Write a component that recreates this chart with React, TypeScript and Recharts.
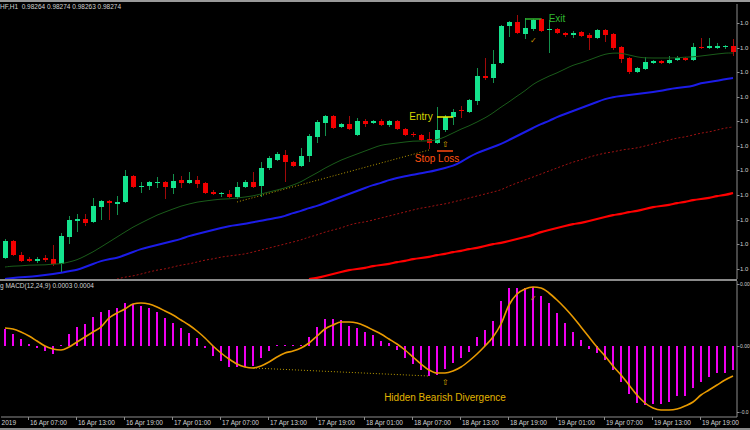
import React from 'react'
import { ComposedChart, Bar, Line, XAxis, YAxis, ReferenceLine, ReferenceDot } from 'recharts'

// hourly bars, 16 Apr 04:00 .. 19 Apr 23:00
const days = ['16 Apr', '17 Apr', '18 Apr', '19 Apr']
const times = days
  .flatMap((d) => Array.from({ length: 24 }, (_, h) => `${d} ${String(h).padStart(2, '0')}:00`))
  .slice(4)

const open = [1.0021,1.0038,1.0024,1.0020,1.0018,1.0021,1.0020,1.0015,1.0042,1.0058,1.0060,1.0057,1.0072,1.0078,1.0075,1.0077,1.0103,1.0092,1.0093,1.0096,1.0097,1.0091,1.0099,1.0096,1.0099,1.0096,1.0087,1.0085,1.0085,1.0082,1.0092,1.0097,1.0093,1.0111,1.0119,1.0124,1.0117,1.0113,1.0123,1.0142,1.0156,1.0163,1.0152,1.0155,1.0144,1.0158,1.0156,1.0158,1.0154,1.0158,1.0150,1.0145,1.0144,1.0140,1.0136,1.0149,1.0162,1.0169,1.0167,1.0178,1.0203,1.0201,1.0216,1.0253,1.0257,1.0245,1.0250,1.0260,1.0249,1.0250,1.0246,1.0244,1.0247,1.0244,1.0241,1.0249,1.0245,1.0232,1.0221,1.0207,1.0210,1.0216,1.0218,1.0216,1.0219,1.0221,1.0219,1.0232,1.0231,1.0231,1.0232,1.0233]
const high = [1.0040,1.0039,1.0027,1.0022,1.0022,1.0024,1.0034,1.0046,1.0063,1.0065,1.0065,1.0081,1.0079,1.0079,1.0083,1.0109,1.0104,1.0097,1.0098,1.0102,1.0098,1.0105,1.0103,1.0107,1.0103,1.0097,1.0089,1.0087,1.0089,1.0097,1.0099,1.0107,1.0117,1.0123,1.0127,1.0129,1.0118,1.0131,1.0145,1.0159,1.0164,1.0164,1.0156,1.0163,1.0161,1.0160,1.0159,1.0160,1.0159,1.0159,1.0151,1.0147,1.0145,1.0147,1.0172,1.0164,1.0170,1.0173,1.0180,1.0211,1.0221,1.0229,1.0254,1.0258,1.0264,1.0261,1.0260,1.0261,1.0259,1.0251,1.0247,1.0248,1.0248,1.0246,1.0250,1.0250,1.0246,1.0233,1.0222,1.0212,1.0222,1.0219,1.0219,1.0223,1.0223,1.0222,1.0236,1.0241,1.0241,1.0236,1.0234,1.0240]
const low = [1.0020,1.0023,1.0017,1.0017,1.0016,1.0017,1.0013,1.0007,1.0035,1.0047,1.0053,1.0056,1.0059,1.0059,1.0064,1.0076,1.0091,1.0086,1.0089,1.0091,1.0080,1.0085,1.0091,1.0095,1.0091,1.0085,1.0084,1.0082,1.0081,1.0080,1.0091,1.0091,1.0082,1.0109,1.0118,1.0097,1.0112,1.0112,1.0117,1.0136,1.0143,1.0150,1.0151,1.0149,1.0143,1.0152,1.0155,1.0153,1.0152,1.0149,1.0143,1.0142,1.0138,1.0130,1.0135,1.0147,1.0154,1.0161,1.0166,1.0174,1.0199,1.0196,1.0215,1.0242,1.0245,1.0240,1.0248,1.0247,1.0226,1.0245,1.0242,1.0241,1.0242,1.0229,1.0240,1.0237,1.0229,1.0216,1.0205,1.0206,1.0209,1.0215,1.0215,1.0215,1.0218,1.0218,1.0218,1.0230,1.0230,1.0230,1.0230,1.0223]
const close = [1.0038,1.0024,1.0018,1.0018,1.0020,1.0019,1.0015,1.0043,1.0059,1.0060,1.0056,1.0073,1.0078,1.0076,1.0077,1.0103,1.0092,1.0093,1.0097,1.0097,1.0092,1.0098,1.0096,1.0099,1.0095,1.0086,1.0085,1.0086,1.0082,1.0092,1.0097,1.0092,1.0111,1.0121,1.0125,1.0117,1.0113,1.0123,1.0143,1.0157,1.0163,1.0151,1.0155,1.0150,1.0158,1.0155,1.0158,1.0154,1.0158,1.0150,1.0144,1.0144,1.0139,1.0136,1.0149,1.0162,1.0167,1.0168,1.0179,1.0203,1.0201,1.0215,1.0253,1.0257,1.0246,1.0251,1.0259,1.0248,1.0250,1.0246,1.0244,1.0246,1.0243,1.0241,1.0249,1.0244,1.0231,1.0220,1.0207,1.0211,1.0217,1.0218,1.0216,1.0219,1.0221,1.0219,1.0232,1.0231,1.0233,1.0233,1.0233,1.0227]

// moving averages
const maFast = [1.0012,1.0013,1.0013,1.0014,1.0014,1.0014,1.0015,1.0015,1.0017,1.0019,1.0023,1.0027,1.0032,1.0037,1.0042,1.0047,1.0052,1.0056,1.0060,1.0064,1.0067,1.0070,1.0073,1.0075,1.0077,1.0078,1.0079,1.0080,1.0080,1.0081,1.0082,1.0083,1.0085,1.0087,1.0089,1.0091,1.0094,1.0097,1.0102,1.0106,1.0111,1.0115,1.0119,1.0122,1.0125,1.0128,1.0131,1.0134,1.0135,1.0136,1.0137,1.0138,1.0138,1.0138,1.0139,1.0142,1.0146,1.0150,1.0153,1.0157,1.0161,1.0166,1.0172,1.0177,1.0183,1.0188,1.0195,1.0199,1.0203,1.0206,1.0210,1.0214,1.0216,1.0219,1.0222,1.0225,1.0226,1.0226,1.0224,1.0222,1.0221,1.0221,1.0221,1.0221,1.0221,1.0222,1.0222,1.0223,1.0224,1.0225,1.0226,1.0226]
const maMid = [1.0000,1.0001,1.0002,1.0002,1.0003,1.0004,1.0005,1.0006,1.0008,1.0009,1.0012,1.0015,1.0018,1.0020,1.0021,1.0024,1.0027,1.0030,1.0032,1.0034,1.0036,1.0038,1.0040,1.0043,1.0045,1.0047,1.0049,1.0051,1.0053,1.0054,1.0055,1.0057,1.0058,1.0060,1.0061,1.0063,1.0066,1.0068,1.0071,1.0073,1.0076,1.0079,1.0082,1.0085,1.0088,1.0091,1.0094,1.0096,1.0099,1.0101,1.0103,1.0104,1.0106,1.0107,1.0109,1.0111,1.0113,1.0117,1.0122,1.0126,1.0129,1.0132,1.0135,1.0139,1.0143,1.0147,1.0151,1.0155,1.0158,1.0162,1.0165,1.0168,1.0171,1.0174,1.0177,1.0180,1.0182,1.0183,1.0184,1.0185,1.0186,1.0187,1.0188,1.0190,1.0191,1.0192,1.0193,1.0196,1.0197,1.0198,1.0200,1.0201]
// these two only come into view part way along
const maSlowFrom = 14
const maSlow = [1.0000,1.0002,1.0003,1.0005,1.0007,1.0009,1.0010,1.0012,1.0014,1.0015,1.0017,1.0019,1.0020,1.0022,1.0023,1.0024,1.0025,1.0027,1.0029,1.0031,1.0033,1.0035,1.0037,1.0039,1.0042,1.0044,1.0047,1.0049,1.0051,1.0054,1.0056,1.0057,1.0059,1.0061,1.0063,1.0065,1.0067,1.0069,1.0071,1.0072,1.0074,1.0075,1.0077,1.0079,1.0081,1.0083,1.0085,1.0087,1.0089,1.0093,1.0096,1.0099,1.0102,1.0105,1.0108,1.0111,1.0114,1.0117,1.0119,1.0122,1.0124,1.0126,1.0127,1.0129,1.0130,1.0131,1.0133,1.0135,1.0137,1.0139,1.0141,1.0142,1.0144,1.0146,1.0147,1.0149,1.0151,1.0152]
const maLongFrom = 38
const maLong = [1.0000,1.0001,1.0003,1.0005,1.0007,1.0009,1.0010,1.0011,1.0013,1.0014,1.0015,1.0017,1.0018,1.0020,1.0021,1.0022,1.0024,1.0025,1.0027,1.0028,1.0030,1.0031,1.0033,1.0035,1.0036,1.0038,1.0040,1.0042,1.0044,1.0047,1.0049,1.0051,1.0053,1.0055,1.0056,1.0058,1.0060,1.0062,1.0064,1.0065,1.0067,1.0068,1.0070,1.0072,1.0073,1.0074,1.0076,1.0077,1.0079,1.0080,1.0081,1.0083,1.0084,1.0086]

const trendTimes = ['17 Apr 09:00', '18 Apr 09:00']
const trendPrices = [1.0077, 1.0129]

// MACD window
const hist = [0.00017,0.00012,0.00007,0.00002,-0.00002,-0.00005,-0.00008,0.00001,0.00012,0.00019,0.00022,0.00029,0.00034,0.00036,0.00038,0.00043,0.00042,0.0004,0.00038,0.00034,0.00028,0.00023,0.00018,0.00013,0.00008,-0.00002,-0.0001,-0.00015,-0.00021,-0.00021,-0.00021,-0.0002,-0.00012,-0.00005,0.00001,0.00001,0.00001,0.00001,0.00009,0.00019,0.00027,0.00027,0.00026,0.0002,0.00018,0.00014,0.00011,0.00005,0.00003,-0.00004,-0.00012,-0.00018,-0.00024,-0.0003,-0.00029,-0.00023,-0.00017,-0.00012,-0.00006,0.00009,0.00016,0.00025,0.00045,0.00058,0.00058,0.00058,0.00059,0.0005,0.00043,0.00033,0.00023,0.00014,0.00006,-0.00003,-0.00007,-0.00014,-0.00024,-0.00036,-0.00048,-0.00057,-0.00059,-0.00058,-0.00058,-0.00056,-0.0005,-0.0005,-0.00042,-0.00036,-0.00031,-0.00027,-0.00027,-0.00024]
const signal = [0.00018,0.00017,0.00014,0.0001,0.00005,0,-0.00003,-0.00004,-0.00001,0.00004,0.00009,0.00014,0.00019,0.00028,0.00033,0.00037,0.00042,0.00043,0.00042,0.00039,0.00035,0.00031,0.00026,0.00021,0.00015,0.00008,0,-0.00007,-0.00013,-0.00018,-0.00021,-0.00022,-0.0002,-0.00016,-0.00011,-0.00007,-0.00005,-0.00002,0.00003,0.0001,0.00017,0.00021,0.00024,0.00024,0.00023,0.0002,0.00016,0.00012,0.00007,0.00002,-0.00004,-0.00011,-0.00018,-0.00024,-0.00027,-0.00027,-0.00025,-0.00021,-0.00015,-0.00008,0,0.00009,0.00022,0.00041,0.00052,0.00057,0.00059,0.00058,0.00053,0.00046,0.00038,0.00029,0.00019,0.00009,-0.00001,-0.0001,-0.0002,-0.00029,-0.00039,-0.00049,-0.00057,-0.00062,-0.00064,-0.00064,-0.00063,-0.0006,-0.00056,-0.00049,-0.00044,-0.00039,-0.00034,-0.0003]
const divTimes = ['17 Apr 11:00', '18 Apr 09:00']
const divValues = [-0.00022, -0.0003]

// axes: the window edge only leaves the first characters of each value label visible
const priceTicks = [1.001, 1.0035, 1.0059, 1.0084, 1.0109, 1.0133, 1.0158, 1.0182, 1.0207, 1.0231, 1.0256]
const priceTickLabels = ['1.0', '1.0', '1.0', '1.0', '1.0', '1.0', '1.0', '1.0', '1.0', '1.0', '1.0']
const macdTicks = [0.00062, 0, -0.00066]
const macdTickLabels = ['0.00', '0.00', '-0.0']
const timeTicks = ['16 Apr 04:00', '16 Apr 07:00', '16 Apr 13:00', '16 Apr 19:00', '17 Apr 01:00', '17 Apr 07:00', '17 Apr 13:00', '17 Apr 19:00', '18 Apr 01:00', '18 Apr 07:00', '18 Apr 13:00', '18 Apr 19:00', '19 Apr 01:00', '19 Apr 07:00', '19 Apr 13:00', '19 Apr 19:00']
const firstDateLabel = '2019'

const FONT = '"Liberation Sans", Arial, sans-serif'
const AXIS = '#8c8c8c'
const TXT = '#d2d2d2'

const rows = times.map((t, i) => ({
  t,
  open: open[i],
  high: high[i],
  low: low[i],
  close: close[i],
  maFast: maFast[i],
  maMid: maMid[i],
  maSlow: i >= maSlowFrom ? maSlow[i - maSlowFrom] : null,
  maLong: i >= maLongFrom ? maLong[i - maLongFrom] : null,
  trend: trendTimes.includes(t) ? trendPrices[trendTimes.indexOf(t)] : null,
  hist: hist[i],
  signal: signal[i],
  div: divTimes.includes(t) ? divValues[divTimes.indexOf(t)] : null,
}))

const Candle = (props: any) => {
  const { x, y, width, height, payload } = props
  const { open, close, high, low } = payload
  const up = close >= open
  const k = height / (high - low)
  const cx = Math.floor(x + width / 2) + 0.5
  const yo = y + (high - open) * k
  const yc = y + (high - close) * k
  const top = Math.round(Math.min(yo, yc))
  const bh = Math.max(1, Math.round(Math.abs(yo - yc)))
  return (
    <g>
      <line x1={cx} x2={cx} y1={y} y2={y + height} stroke={up ? '#13904c' : '#a00a0a'} />
      <rect x={cx - 2.5} y={top} width={5} height={bh} fill={up ? '#14e38e' : '#f20000'} />
    </g>
  )
}

const makeValueTick = (ticks: number[], labels: string[], size: number) => (props: any) => {
  const { x, y, payload } = props
  const label = labels[ticks.indexOf(payload.value)]
  return (
    <g>
      <line x1={x} x2={x + 2.5} y1={y + 0.5} y2={y + 0.5} stroke={AXIS} />
      <text x={x + 3} y={y + 2.2} fill={TXT} fontSize={size} fontFamily={FONT}>
        {label}
      </text>
    </g>
  )
}
const PriceTick = makeValueTick(priceTicks, priceTickLabels, 6)
const MacdTick = makeValueTick(macdTicks, macdTickLabels, 5)

const TimeTick = (props: any) => {
  const { x, y, payload } = props
  const first = payload.value === times[0]
  return (
    <g>
      {!first && <line x1={x - 0.5} x2={x - 0.5} y1={y} y2={y + 3} stroke={AXIS} />}
      <text
        x={first ? x + 11 : x + 1}
        y={y + 8}
        textAnchor={first ? 'end' : 'start'}
        fill={TXT}
        fontSize={6.5}
        fontFamily={FONT}
      >
        {first ? firstDateLabel : payload.value}
      </text>
    </g>
  )
}

const note = (x: string, y: number, text: string, color: string, size = 10) => (
  <ReferenceDot
    key={text + x}
    x={x}
    y={y}
    r={0}
    fill="none"
    stroke="none"
    ifOverflow="visible"
    label={{ value: text, position: 'center', fill: color, fontSize: size, fontFamily: FONT }}
  />
)

export default function App() {
  return (
    <div style={{ position: 'absolute', left: 0, top: 0, width: 750, height: 430, background: '#000', overflow: 'hidden' }}>
      <div style={{ position: 'absolute', top: 0, left: 0 }}>
        <ComposedChart width={750} height={281} data={rows} margin={{ top: 4, right: 0, bottom: 2, left: 1 }}>
          <XAxis dataKey="t" hide />
          <YAxis
            orientation="right"
            width={13}
            domain={[1.0, 1.0275]}
            allowDataOverflow
            ticks={priceTicks}
            interval={0}
            tickSize={0}
            tickMargin={0}
            tickLine={false}
            axisLine={{ stroke: AXIS }}
            tick={<PriceTick />}
          />
          <Line dataKey="maFast" type="basis" stroke="#1a5c1a" strokeWidth={1} dot={false} isAnimationActive={false} />
          <Line dataKey="maMid" type="basis" stroke="#1c1ce8" strokeWidth={2} dot={false} isAnimationActive={false} />
          <Line dataKey="maSlow" type="basis" stroke="#a01212" strokeWidth={1} strokeDasharray="2 2" dot={false} isAnimationActive={false} />
          <Line dataKey="maLong" type="basis" stroke="#ff0000" strokeWidth={2.2} dot={false} isAnimationActive={false} />
          <Line dataKey="trend" connectNulls stroke="#b89a00" strokeWidth={1} strokeDasharray="1 2" dot={false} isAnimationActive={false} />
          <Bar dataKey={(d: any) => [d.low, d.high]} barSize={5} shape={<Candle />} isAnimationActive={false} />
          <ReferenceLine segment={[{ x: '18 Apr 10:00', y: 1.0162 }, { x: '18 Apr 12:00', y: 1.0162 }]} stroke="#f0f000" strokeWidth={1.5} />
          <ReferenceLine segment={[{ x: '18 Apr 10:00', y: 1.0128 }, { x: '18 Apr 12:00', y: 1.0128 }]} stroke="#ff4a10" strokeWidth={1.5} />
          <ReferenceLine segment={[{ x: '18 Apr 21:00', y: 1.026 }, { x: '18 Apr 23:00', y: 1.026 }]} stroke="#2fb52f" strokeWidth={1.5} />
          {note('18 Apr 08:00', 1.0163, 'Entry', '#d6d600')}
          {note('18 Apr 10:00', 1.0121, 'Stop Loss', '#ff5010')}
          {note('18 Apr 11:00', 1.0135, '⇧', '#d8a800', 8)}
          {note('19 Apr 01:00', 1.0261, 'Exit', '#2fb52f')}
          {note('18 Apr 22:00', 1.0239, '✓', '#c89000', 8)}
        </ComposedChart>
      </div>
      <div style={{ position: 'absolute', top: 280, left: 0 }}>
        <ComposedChart width={750} height={150} data={rows} margin={{ top: 1, right: 0, bottom: 0, left: 1 }}>
          <XAxis
            dataKey="t"
            height={13}
            ticks={timeTicks}
            interval={0}
            tickSize={0}
            tickMargin={0}
            tickLine={false}
            axisLine={{ stroke: AXIS }}
            tick={<TimeTick />}
          />
          <YAxis
            orientation="right"
            width={13}
            domain={[-0.00071, 0.00065]}
            ticks={macdTicks}
            interval={0}
            tickSize={0}
            tickMargin={0}
            tickLine={false}
            axisLine={{ stroke: AXIS }}
            tick={<MacdTick />}
          />
          <Bar dataKey="hist" barSize={2} fill="#f000f0" isAnimationActive={false} />
          <Line dataKey="signal" type="monotone" stroke="#e89a00" strokeWidth={1.6} dot={false} isAnimationActive={false} />
          <Line dataKey="div" connectNulls stroke="#b89a00" strokeWidth={1} strokeDasharray="1 2" dot={false} isAnimationActive={false} />
          {note('18 Apr 11:00', -0.00036, '⇧', '#d8a800', 8)}
          {note('18 Apr 11:00', -0.00051, 'Hidden Bearish Divergence', '#e0b400')}
          {note('18 Apr 22:00', 0.00048, '✓', '#c89000', 8)}
        </ComposedChart>
      </div>
      <div style={{ position: 'absolute', top: 0, left: 0, width: 750, height: 2, background: '#9a9a9a' }} />
      <div style={{ position: 'absolute', top: 279, left: 0, width: 737, height: 2, background: '#8a8a8a' }} />
      <div style={{ position: 'absolute', top: 428, left: 0, width: 750, height: 2, background: '#8a8a8a' }} />
      <div style={{ position: 'absolute', top: 3, left: 0, fontSize: 6.5, lineHeight: '7px', color: TXT, fontFamily: FONT, whiteSpace: 'nowrap' }}>
        HF,H1&nbsp; 0.98264 0.98274 0.98263 0.98274
      </div>
      <div style={{ position: 'absolute', top: 282, left: 0, fontSize: 6.5, lineHeight: '7px', color: TXT, fontFamily: FONT, whiteSpace: 'nowrap' }}>
        g MACD(12,24,9) 0.0003 0.0004
      </div>
    </div>
  )
}
